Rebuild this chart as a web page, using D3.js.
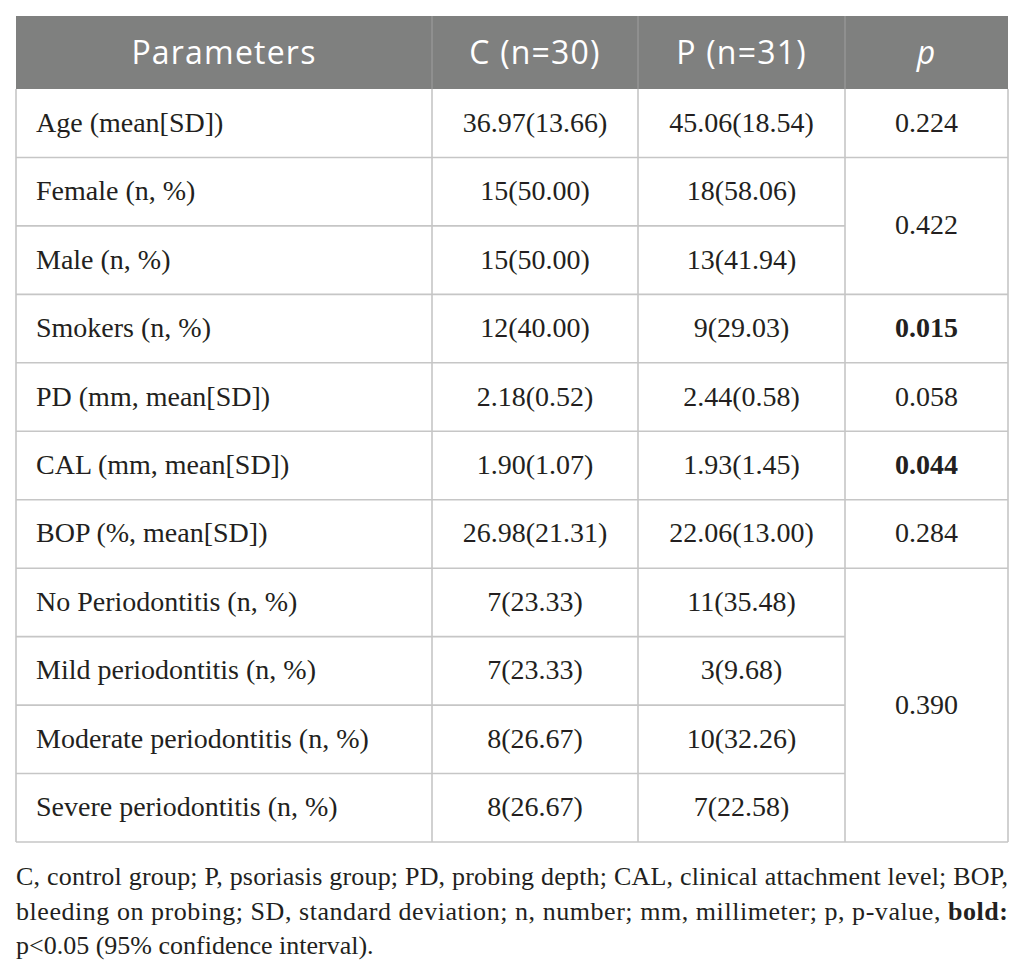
<!DOCTYPE html>
<html>
<head>
<meta charset="utf-8">
<script src="https://cdn.jsdelivr.net/npm/d3@7/dist/d3.min.js"></script>
<style>
  html, body { margin: 0; padding: 0; background: #ffffff; }
  svg { display: block; }
</style>
</head>
<body>
<svg id="chart" width="1026" height="969"></svg>
<script>
// ---- data ----
const headers = ["Parameters", "C (n=30)", "P (n=31)", "p"];
const parameters = [
  "Age (mean[SD])",
  "Female (n, %)",
  "Male (n, %)",
  "Smokers (n, %)",
  "PD (mm, mean[SD])",
  "CAL (mm, mean[SD])",
  "BOP (%, mean[SD])",
  "No Periodontitis (n, %)",
  "Mild periodontitis (n, %)",
  "Moderate periodontitis (n, %)",
  "Severe periodontitis (n, %)"
];
const controlValues = [
  "36.97(13.66)", "15(50.00)", "15(50.00)", "12(40.00)", "2.18(0.52)",
  "1.90(1.07)", "26.98(21.31)", "7(23.33)", "7(23.33)", "8(26.67)", "8(26.67)"
];
const psoriasisValues = [
  "45.06(18.54)", "18(58.06)", "13(41.94)", "9(29.03)", "2.44(0.58)",
  "1.93(1.45)", "22.06(13.00)", "11(35.48)", "3(9.68)", "10(32.26)", "7(22.58)"
];
// p-values with the rows they span (start index, span count) and bold flag
const pValues = [
  { value: "0.224", start: 0, span: 1, bold: false },
  { value: "0.422", start: 1, span: 2, bold: false },
  { value: "0.015", start: 3, span: 1, bold: true },
  { value: "0.058", start: 4, span: 1, bold: false },
  { value: "0.044", start: 5, span: 1, bold: true },
  { value: "0.284", start: 6, span: 1, bold: false },
  { value: "0.390", start: 7, span: 4, bold: false }
];
const footnoteLines = [
  [{ t: "C, control group; P, psoriasis group; PD, probing depth; CAL, clinical attachment level; BOP,", b: false }],
  [{ t: "bleeding on probing; SD, standard deviation; n, number; mm, millimeter; p, p-value, ", b: false }, { t: "bold:", b: true }],
  [{ t: "p<0.05 (95% confidence interval).", b: false }]
];

// ---- layout ----
const svg = d3.select("#chart");
const left = 16, right = 1008;
const colEdges = [left, 432, 638, 845, right];
const headerTop = 16, headerBottom = 89, tableBottom = 842;
const serif = "'Liberation Serif', 'Times New Roman', serif";
const sans = "'Open Sans', 'Noto Sans', sans-serif";
const textColor = "#231f20";
const gridColor = "#c6c6c6";

const y = d3.scaleBand()
  .domain(d3.range(parameters.length))
  .range([headerBottom, tableBottom])
  .padding(0);
const rowH = y.bandwidth();

// header background
svg.append("rect")
  .attr("x", left).attr("y", headerTop)
  .attr("width", right - left).attr("height", headerBottom - headerTop)
  .attr("fill", "#7f807f");

// header texts
svg.selectAll("text.hdr")
  .data(headers)
  .join("text")
  .attr("class", "hdr")
  .attr("x", (d, i) => (colEdges[i] + colEdges[i + 1]) / 2)
  .attr("y", (headerTop + headerBottom) / 2 + 11.5)
  .attr("text-anchor", "middle")
  .attr("font-family", sans)
  .attr("font-size", 32)
  .attr("letter-spacing", 1.2)
  .attr("font-style", (d, i) => i === 3 ? "italic" : "normal")
  .attr("fill", "#ffffff")
  .text(d => d);

// header column separators (lighter)
svg.selectAll("line.hsep")
  .data(colEdges.slice(1, 4))
  .join("line")
  .attr("class", "hsep")
  .attr("x1", d => d).attr("x2", d => d)
  .attr("y1", headerTop).attr("y2", headerBottom)
  .attr("stroke", "#9a9a9a").attr("stroke-width", 1.2);

// horizontal grid lines for columns 0..2
const grid = svg.append("g").attr("stroke", gridColor).attr("stroke-width", 1.6);
d3.range(1, parameters.length).forEach(i => {
  grid.append("line")
    .attr("x1", left).attr("x2", colEdges[3])
    .attr("y1", y(i)).attr("y2", y(i));
});
// horizontal lines for p column at span boundaries
pValues.slice(1).forEach(p => {
  grid.append("line")
    .attr("x1", colEdges[3]).attr("x2", right)
    .attr("y1", y(p.start)).attr("y2", y(p.start));
});
// bottom line
grid.append("line").attr("x1", left).attr("x2", right)
  .attr("y1", tableBottom).attr("y2", tableBottom);
// vertical lines
colEdges.forEach(x => {
  grid.append("line").attr("x1", x).attr("x2", x)
    .attr("y1", headerBottom).attr("y2", tableBottom);
});

// body texts
const body = svg.append("g")
  .attr("font-family", serif)
  .attr("font-size", 28)
  .attr("fill", textColor);

body.selectAll("text.param")
  .data(parameters)
  .join("text")
  .attr("class", "param")
  .attr("x", left + 20)
  .attr("y", (d, i) => y(i) + rowH / 2 + 8.5)
  .text(d => d);

[controlValues, psoriasisValues].forEach((arr, c) => {
  body.selectAll("text.v" + c)
    .data(arr)
    .join("text")
    .attr("class", "v" + c)
    .attr("x", (colEdges[c + 1] + colEdges[c + 2]) / 2)
    .attr("y", (d, i) => y(i) + rowH / 2 + 8.5)
    .attr("text-anchor", "middle")
    .text(d => d);
});

body.selectAll("text.pv")
  .data(pValues)
  .join("text")
  .attr("class", "pv")
  .attr("x", (colEdges[3] + colEdges[4]) / 2)
  .attr("y", d => y(d.start) + rowH * d.span / 2 + 8.5)
  .attr("text-anchor", "middle")
  .attr("font-weight", d => d.bold ? "bold" : "normal")
  .text(d => d.value);

// footnote
const foot = svg.append("g")
  .attr("font-family", serif)
  .attr("font-size", 26)
  .attr("fill", textColor);
const footY = [885, 920, 954];
footnoteLines.forEach((line, i) => {
  const t = foot.append("text")
    .attr("x", left)
    .attr("y", footY[i]);
  if (i < 2) {
    t.attr("textLength", right - left).attr("lengthAdjust", "spacing");
  }
  line.forEach(seg => {
    t.append("tspan")
      .attr("font-weight", seg.b ? "bold" : "normal")
      .text(seg.t);
  });
});
</script>
</body>
</html>
